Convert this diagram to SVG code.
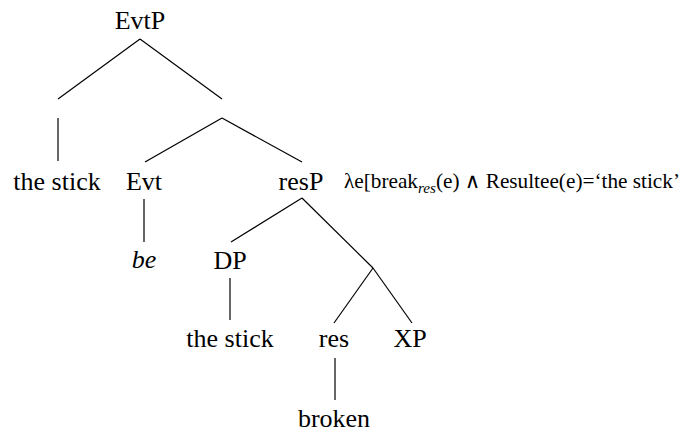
<svg xmlns="http://www.w3.org/2000/svg" width="683" height="433" viewBox="0 0 683 433">
<style>
text{font-family:"Liberation Serif","Tinos","Noto Serif","DejaVu Serif","Nimbus Roman","FreeSerif","Times New Roman",Times,serif;fill:#000}
.n{font-size:26px;text-anchor:middle}
.i{font-style:italic}
.f{font-size:21px}
line{stroke:#000;stroke-width:1.2}
</style>
<rect width="683" height="433" fill="#fff"/>
<g id="connectors">
<line x1="140" y1="39" x2="58" y2="99"/>
<line x1="140" y1="39" x2="222" y2="99"/>
<line x1="58" y1="118" x2="58" y2="161"/>
<line x1="222" y1="118" x2="145" y2="162"/>
<line x1="222" y1="118" x2="302" y2="162"/>
<line x1="144" y1="199" x2="144" y2="242"/>
<line x1="302" y1="198" x2="231" y2="242"/>
<line x1="302" y1="198" x2="373" y2="268"/>
<line x1="230" y1="278" x2="230" y2="320"/>
<line x1="373" y1="268" x2="334" y2="323"/>
<line x1="373" y1="268" x2="412" y2="323"/>
<line x1="335" y1="358" x2="335" y2="400"/>
</g>
<g id="EvtP"><text class="n" x="140" y="29">EvtP</text></g>
<g id="stick1"><text class="n" x="57" y="190">the stick</text></g>
<g id="Evt"><text class="n" x="144" y="190">Evt</text></g>
<g id="resP"><text class="n" x="301" y="190">resP</text></g>
<g id="formula"><text class="f" x="344" y="188" textLength="336" lengthAdjust="spacingAndGlyphs">λe[break<tspan class="i" font-size="15" dy="5">res</tspan><tspan dy="-5">(e) ∧ Resultee(e)=‘the stick’</tspan></text></g>
<g id="be"><text class="n i" x="144" y="268">be</text></g>
<g id="DP"><text class="n" x="230" y="269">DP</text></g>
<g id="stick2"><text class="n" x="230" y="347">the stick</text></g>
<g id="res"><text class="n" x="334" y="347">res</text></g>
<g id="XP"><text class="n" x="410" y="347">XP</text></g>
<g id="broken"><text class="n" x="334" y="427">broken</text></g>
</svg>
